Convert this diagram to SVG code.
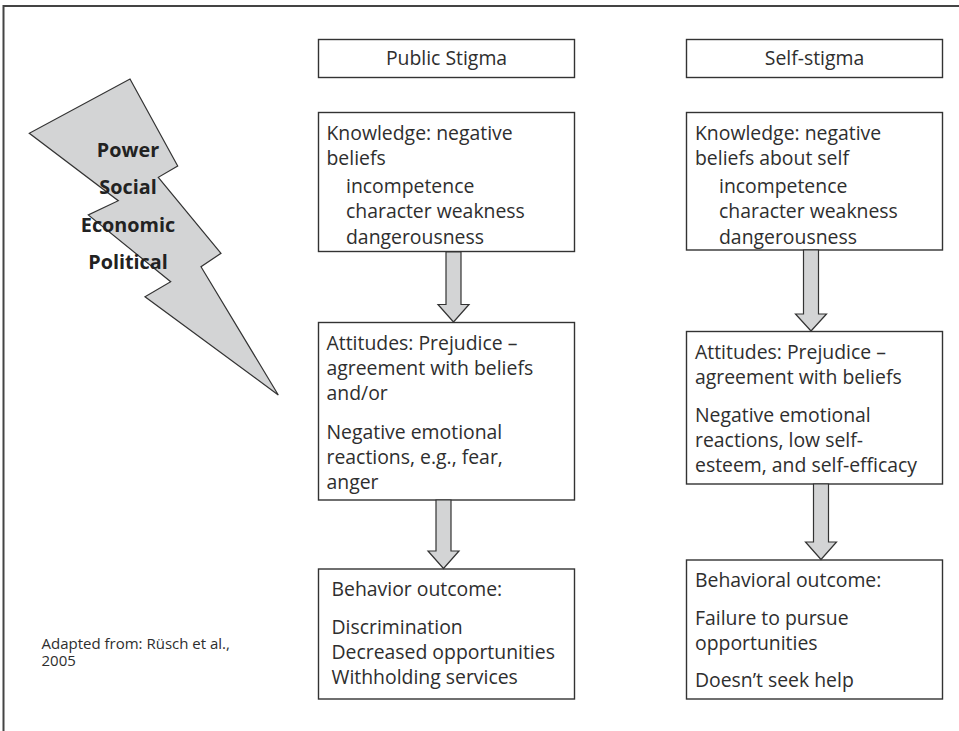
<svg xmlns="http://www.w3.org/2000/svg" width="959" height="731" viewBox="0 0 959 731">
  <style>
    .frame { fill: none; stroke: #444; stroke-width: 2; }
    .box { fill: #fff; stroke: #333; stroke-width: 1.4; }
    .shape { fill: #d3d4d5; stroke: #333; stroke-width: 1.2; stroke-linejoin: miter; }
    text { font-family: "Open Sans", "Noto Sans", "Liberation Sans", sans-serif; fill: #2e2e2e; }
    .t { font-size: 19.4px; }
    .h { font-size: 19.4px; text-anchor: middle; }
    .b { font-size: 19.8px; font-weight: bold; text-anchor: middle; fill: #222; }
    .s { font-size: 15px; }
  </style>

  <rect width="959" height="731" fill="#fff"/>
  <!-- outer frame (runs off the right and bottom edges) -->
  <path class="frame" d="M3.5,740 V6 H970"/>

  <!-- lightning bolt: forces acting on stigma -->
  <g id="forces">
    <polygon class="shape" points="130,79 177.7,166 158.3,177.3 221,253.3 201,266.7 278.3,395 145,296.7 170.7,281.7 88.3,215 118.3,200.7 29.3,133.3"/>
    <text class="b" x="128" y="157">Power</text>
    <text class="b" x="128" y="194">Social</text>
    <text class="b" x="128" y="231.5">Economic</text>
    <text class="b" x="128" y="269">Political</text>
  </g>

  <!-- column headers -->
  <g id="public-stigma">
    <rect class="box" x="318.5" y="39.5" width="256" height="38"/>
    <text class="h" x="446.5" y="65">Public Stigma</text>
  </g>
  <g id="self-stigma">
    <rect class="box" x="686.5" y="39.5" width="256" height="38"/>
    <text class="h" x="814.5" y="65">Self-stigma</text>
  </g>

  <!-- public stigma column -->
  <g id="public-knowledge">
    <rect class="box" x="318.5" y="112.5" width="256" height="139"/>
    <text class="t" x="326.5" y="140">Knowledge: negative</text>
    <text class="t" x="326.5" y="165">beliefs</text>
    <text class="t" x="346" y="192.5">incompetence</text>
    <text class="t" x="346" y="218">character weakness</text>
    <text class="t" x="346" y="243.5">dangerousness</text>
  </g>
  <g id="public-attitudes">
    <rect class="box" x="318.5" y="322.5" width="256" height="177.5"/>
    <text class="t" x="326.5" y="350">Attitudes: Prejudice –</text>
    <text class="t" x="326.5" y="374.5">agreement with beliefs</text>
    <text class="t" x="326.5" y="399.5">and/or</text>
    <text class="t" x="326.5" y="439">Negative emotional</text>
    <text class="t" x="326.5" y="464">reactions, e.g., fear,</text>
    <text class="t" x="326.5" y="488.5">anger</text>
  </g>
  <g id="public-behavior">
    <rect class="box" x="318.5" y="569" width="256" height="130"/>
    <text class="t" x="331.5" y="596">Behavior outcome:</text>
    <text class="t" x="331.5" y="633.5">Discrimination</text>
    <text class="t" x="331.5" y="658.5">Decreased opportunities</text>
    <text class="t" x="331.5" y="683.5">Withholding services</text>
  </g>

  <!-- self-stigma column -->
  <g id="self-knowledge">
    <rect class="box" x="686.5" y="112.5" width="256" height="137.5"/>
    <text class="t" x="695" y="140">Knowledge: negative</text>
    <text class="t" x="695" y="165">beliefs about self</text>
    <text class="t" x="719" y="192.5">incompetence</text>
    <text class="t" x="719" y="218">character weakness</text>
    <text class="t" x="719" y="243.5">dangerousness</text>
  </g>
  <g id="self-attitudes">
    <rect class="box" x="686.5" y="331.5" width="256" height="152.5"/>
    <text class="t" x="695" y="359">Attitudes: Prejudice –</text>
    <text class="t" x="695" y="383.5">agreement with beliefs</text>
    <text class="t" x="695" y="422">Negative emotional</text>
    <text class="t" x="695" y="447">reactions, low self-</text>
    <text class="t" x="695" y="472">esteem, and self-efficacy</text>
  </g>
  <g id="self-behavior">
    <rect class="box" x="686.5" y="560" width="256" height="139"/>
    <text class="t" x="695" y="587">Behavioral outcome:</text>
    <text class="t" x="695" y="625">Failure to pursue</text>
    <text class="t" x="695" y="649.5">opportunities</text>
    <text class="t" x="695" y="687">Doesn’t seek help</text>
  </g>

  <!-- block arrows between stages -->
  <g id="connectors">
    <polygon class="shape" points="446,252 461,252 461,304.5 469,304.5 453.5,322 438,304.5 446,304.5"/>
    <polygon class="shape" points="436,500 451,500 451,551 459,551 443.5,568.5 428,551 436,551"/>
    <polygon class="shape" points="803.5,250 818.5,250 818.5,314 826.5,314 811,331 795.5,314 803.5,314"/>
    <polygon class="shape" points="813.5,484 828.5,484 828.5,542 836.5,542 821,559.5 805.5,542 813.5,542"/>
  </g>

  <!-- source note -->
  <g id="source">
    <text class="s" x="41.5" y="648.5">Adapted from: Rüsch et al.,</text>
    <text class="s" x="41.5" y="666">2005</text>
  </g>
</svg>
